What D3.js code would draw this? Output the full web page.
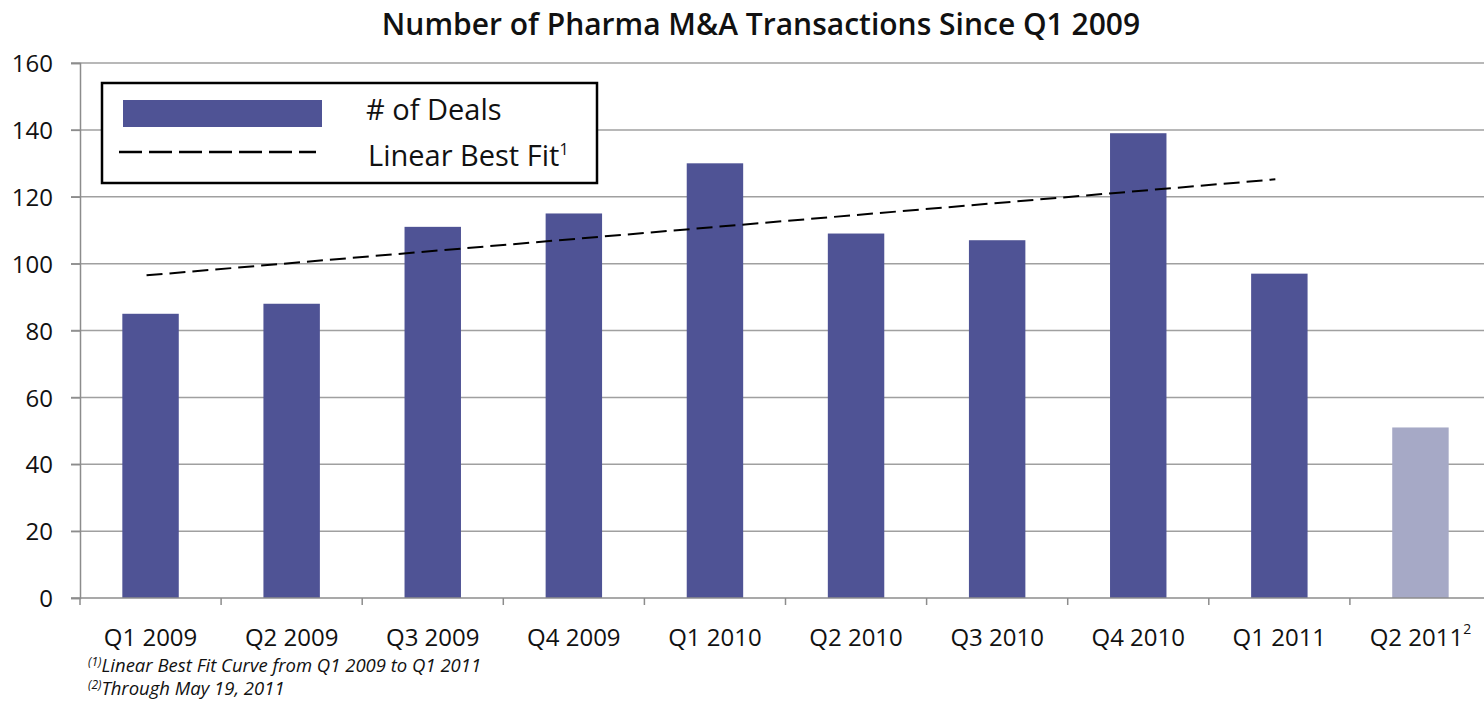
<!DOCTYPE html>
<html>
<head>
<meta charset="utf-8">
<script src="https://cdn.jsdelivr.net/npm/d3@7"></script>
<style>
  body { margin: 0; background: #fff; overflow: hidden; }
  svg { display: block; }
</style>
</head>
<body>
<div class="chart"></div>
<script>
const quarters = ["Q1 2009", "Q2 2009", "Q3 2009", "Q4 2009", "Q1 2010",
                  "Q2 2010", "Q3 2010", "Q4 2010", "Q1 2011", "Q2 2011"];
const deals = [85, 88, 111, 115, 130, 109, 107, 139, 97, 51];
const partial = [false, false, false, false, false, false, false, false, false, true];
// best fit line: start at Q1 2009, end at Q1 2011
const fitQuarters = ["Q1 2009", "Q1 2011"];
const fitValues = [96.5, 125.2];
const yTicks = [0, 20, 40, 60, 80, 100, 120, 140, 160];

const font = "'Open Sans', sans-serif";

const svg = d3.select(".chart")
  .append("svg")
    .attr("width", 1484)
    .attr("height", 702);

const plotLeft = 80, plotRight = 1491, plotTop = 63, plotBottom = 598;

const xScale = d3.scaleBand()
  .domain(quarters)
  .range([plotLeft, plotRight])
  .paddingInner(0.6)
  .paddingOuter(0.3);

const yScale = d3.scaleLinear()
  .domain([0, 160])
  .range([plotBottom, plotTop]);

// title
svg.append("text")
  .text("Number of Pharma M&A Transactions Since Q1 2009")
  .attr("x", 761)
  .attr("y", 35)
  .attr("text-anchor", "middle")
  .style("font-family", font)
  .style("font-weight", "600")
  .style("font-size", "30px")
  .attr("fill", "#111");

// gridlines
svg.append("g")
  .selectAll("line")
  .data(yTicks.filter(d => d > 0))
  .join("line")
    .attr("x1", plotLeft - 9)
    .attr("x2", 1484)
    .attr("y1", d => yScale(d))
    .attr("y2", d => yScale(d))
    .attr("stroke", "#a0a0a0")
    .attr("stroke-width", 1.5);

// y axis
const yAxis = svg.append("g")
  .attr("transform", `translate(${plotLeft},0)`)
  .call(d3.axisLeft(yScale).tickValues(yTicks).tickSize(9).tickPadding(18));
yAxis.select(".domain").attr("stroke", "#8c8c8c").attr("stroke-width", 1.5);
yAxis.selectAll(".tick line").attr("stroke", "#8c8c8c").attr("stroke-width", 1.5);
yAxis.selectAll("text")
  .style("font-family", font)
  .style("font-size", "24px")
  .attr("fill", "#111")
  .attr("dy", "0.36em");

// bars
svg.append("g")
  .selectAll("rect")
  .data(quarters)
  .join("rect")
    .attr("x", d => xScale(d))
    .attr("y", (d, i) => yScale(deals[i]))
    .attr("width", xScale.bandwidth())
    .attr("height", (d, i) => yScale(0) - yScale(deals[i]))
    .attr("fill", (d, i) => partial[i] ? "#a6a9c6" : "#4f5395");

// x axis
const xAxis = svg.append("g")
  .attr("transform", `translate(0,${plotBottom})`);
xAxis.append("line")
  .attr("x1", plotLeft - 9)
  .attr("x2", 1484)
  .attr("stroke", "#8c8c8c")
  .attr("stroke-width", 1.5);
const step = xScale.step();
xAxis.selectAll(".tk")
  .data(quarters)
  .join("line")
    .attr("class", "tk")
    .attr("x1", d => xScale(d) - step * 0.3)
    .attr("x2", d => xScale(d) - step * 0.3)
    .attr("y1", 0)
    .attr("y2", 7)
    .attr("stroke", "#8c8c8c")
    .attr("stroke-width", 1.5);
const xLabels = xAxis.selectAll(".lbl")
  .data(quarters)
  .join("text")
    .attr("class", "lbl")
    .attr("x", d => xScale(d) + xScale.bandwidth() / 2)
    .attr("y", 48)
    .attr("text-anchor", "middle")
    .style("font-family", font)
    .style("font-size", "24px")
    .attr("fill", "#111");
xLabels.append("tspan").text(d => d);
xLabels.filter((d, i) => partial[i])
  .append("tspan")
    .text("2")
    .attr("dy", -12)
    .style("font-size", "14px");

// best fit line
const line = d3.line()
  .x(d => xScale(d[0]) + xScale.bandwidth() / 2 - 4)
  .y(d => yScale(d[1]));
svg.append("path")
  .datum(fitQuarters.map((q, i) => [q, fitValues[i]]))
  .attr("d", line)
  .attr("fill", "none")
  .attr("stroke", "#000")
  .attr("stroke-width", 2)
  .attr("stroke-dasharray", "16 7");

// legend
const legend = svg.append("g");
legend.append("rect")
  .attr("x", 102)
  .attr("y", 83)
  .attr("width", 495)
  .attr("height", 100)
  .attr("fill", "#fff")
  .attr("stroke", "#000")
  .attr("stroke-width", 2.5);
legend.append("rect")
  .attr("x", 123)
  .attr("y", 100)
  .attr("width", 199)
  .attr("height", 27)
  .attr("fill", "#4f5395");
legend.append("line")
  .attr("x1", 119)
  .attr("x2", 316)
  .attr("y1", 152)
  .attr("y2", 152)
  .attr("stroke", "#000")
  .attr("stroke-width", 2.5)
  .attr("stroke-dasharray", "23 7");
legend.append("text")
  .text("# of Deals")
  .attr("x", 366)
  .attr("y", 120)
  .style("font-family", font)
  .style("font-size", "29px")
  .attr("fill", "#111");
const lt = legend.append("text")
  .attr("x", 368)
  .attr("y", 166)
  .style("font-family", font)
  .style("font-size", "29px")
  .attr("fill", "#111");
lt.append("tspan").text("Linear Best Fit");
lt.append("tspan").text("1").attr("dy", -11).style("font-size", "16px");

// footnotes
const notes = [["(1)", "Linear Best Fit Curve from Q1 2009 to Q1 2011"],
               ["(2)", "Through May 19, 2011"]];
svg.append("g")
  .selectAll("text")
  .data(notes)
  .join("text")
    .attr("x", 88)
    .attr("y", (d, i) => 672 + i * 23)
    .style("font-family", font)
    .style("font-style", "italic")
    .style("font-size", "18.5px")
    .attr("fill", "#111")
    .each(function(d) {
      const t = d3.select(this);
      t.append("tspan").text(d[0]).style("font-size", "12px").attr("dy", -6);
      t.append("tspan").text(d[1]).attr("dy", 6);
    });
</script>
</body>
</html>
